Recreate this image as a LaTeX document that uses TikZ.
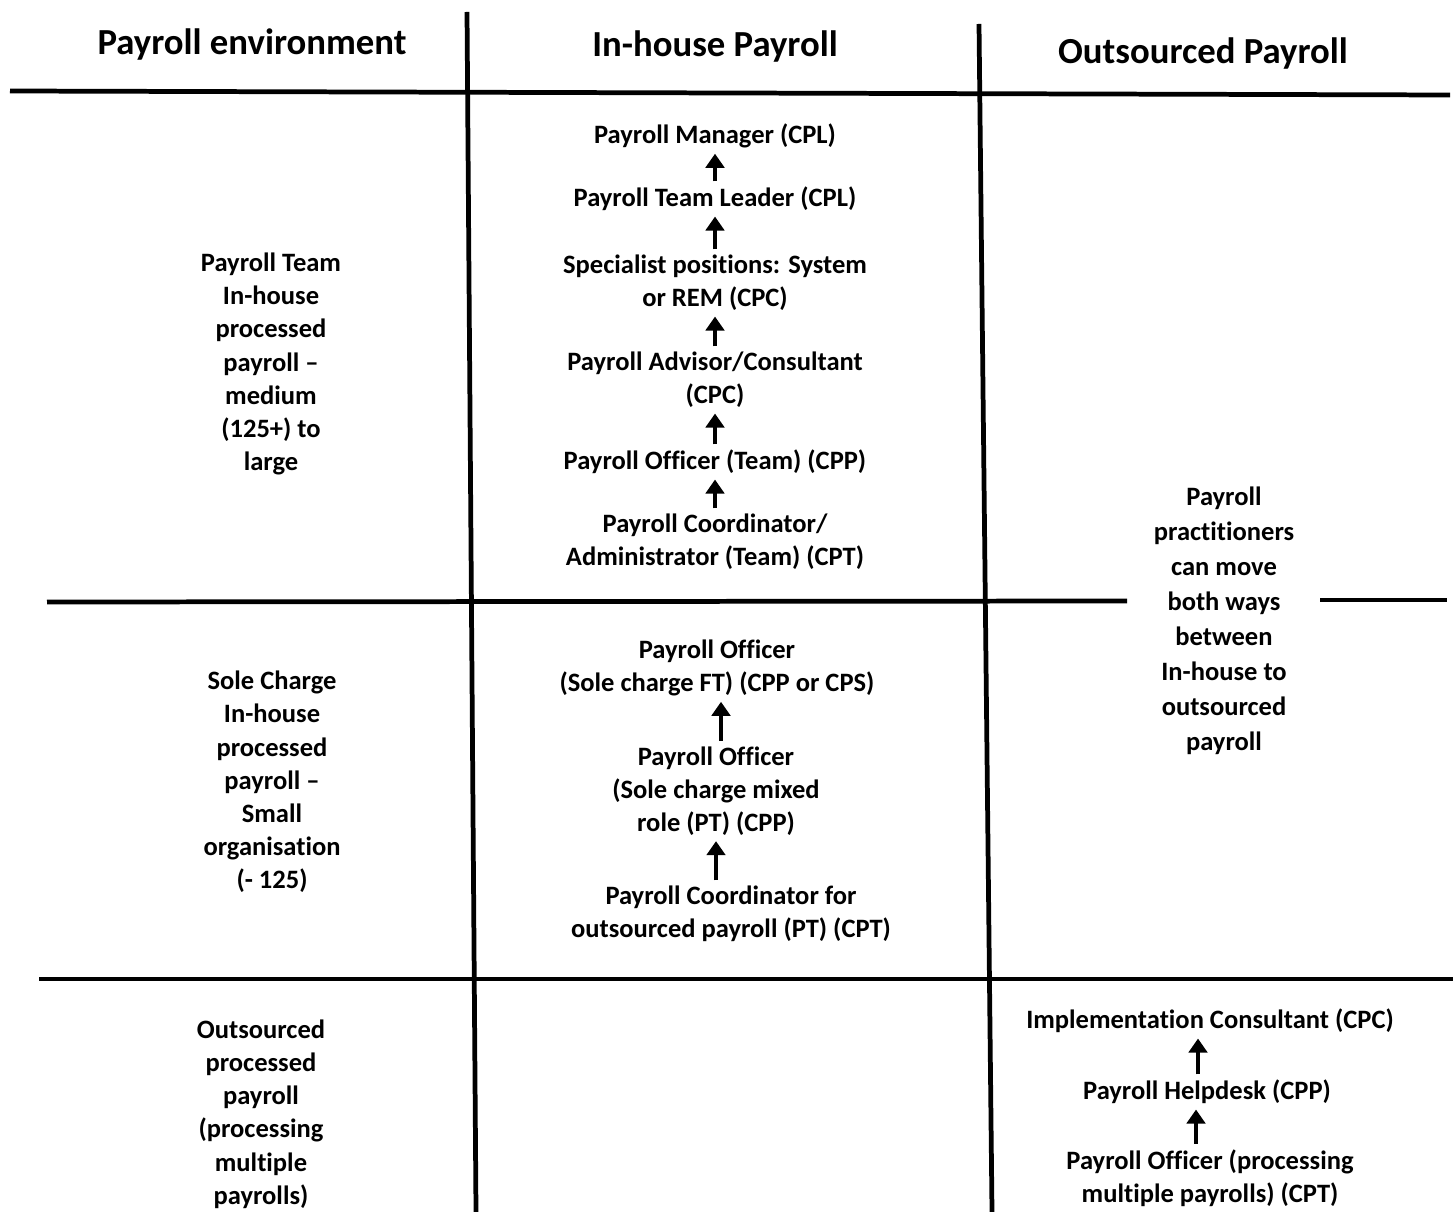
\documentclass[tikz,border=0pt]{standalone}
\usepackage{fontspec}
\setmainfont{Carlito}[Ligatures={TeX,NoCommon}]
\usetikzlibrary{arrows.meta}
\begin{document}
\begin{tikzpicture}[x=0.02cm,y=-0.02cm,
  rule/.style={line width=2.7pt},
  head/.style={font=\bfseries\fontsize{20.9}{25}\selectfont, inner sep=0pt},
  txt/.style={font=\bfseries\fontsize{15.1}{18.9}\selectfont, align=center, inner sep=2pt},
  txtw/.style={font=\bfseries\fontsize{15.1}{19.9}\selectfont, align=center, inner sep=2pt},
  uparrow/.style={line width=2.6pt, -{Triangle[width=10.5pt,length=8pt]}, shorten <=1pt, shorten >=1pt}]
\useasboundingbox (0,0) rectangle (1456,1212);
% grid lines
\draw[rule] (467,12) -- (476,1212);
\draw[rule] (979,24) -- (992,1212);
\draw[rule] (10,91) -- (1450,95);
\draw[rule] (47,602) -- (1127,601);
\draw[rule] (1320,600) -- (1447,600);
\draw[rule] (39,979) -- (1453,979);
% headers
\node[head] (h1) at (252,45) {Payroll environment};
\node[head] (h2) at (715,47) {In-house Payroll};
\node[head] (h3) at (1203,54) {Outsourced Payroll};
% left column
\node[txt] (l1) at (271,364) {Payroll Team\\In-house\\processed\\payroll –\\medium\\(125+) to\\large};
\node[txt] (l2) at (272,782) {Sole Charge\\In-house\\processed\\payroll –\\Small\\organisation\\(- 125)};
\node[txt] (l3) at (261,1114) {Outsourced\\processed\\payroll\\(processing\\multiple\\payrolls)};
% middle column, team
\node[txt] (m1) at (715,136) {Payroll Manager (CPL)};
\node[txt] (m2) at (715,199) {Payroll Team Leader (CPL)};
\node[txt] (m3) at (715,283) {Specialist positions: System\\or REM (CPC)};
\node[txt] (m4) at (715,380) {Payroll Advisor/Consultant\\(CPC)};
\node[txt] (m5) at (715,462) {Payroll Officer (Team) (CPP)};
\node[txt] (m6) at (715,542) {Payroll Coordinator/\\Administrator (Team) (CPT)};
\draw[uparrow] (m2) -- (m1);
\draw[uparrow] (m3) -- (m2);
\draw[uparrow] (m4) -- (m3);
\draw[uparrow] (m5) -- (m4);
\draw[uparrow] (m6) -- (m5);
% middle column, sole charge
\node[txt] (s1) at (717,668) {Payroll Officer\\(Sole charge FT) (CPP or CPS)};
\node[txt] (s2) at (716,791) {Payroll Officer\\(Sole charge mixed\\role (PT) (CPP)};
\node[txt] (s3) at (731,914) {Payroll Coordinator for\\outsourced payroll (PT) (CPT)};
\draw[uparrow] (s2.north -| 721,0) -- (s1.south -| 721,0);
\draw[uparrow] (s3.north -| 716,0) -- (s2.south -| 716,0);
% right column
\node[txtw] (r0) at (1224,621) {Payroll\\practitioners\\can move\\both ways\\between\\In-house to\\outsourced\\payroll};
\node[txt] (o1) at (1210,1021) {Implementation Consultant (CPC)};
\node[txt] (o2) at (1207,1092) {Payroll Helpdesk (CPP)};
\node[txt] (o3) at (1210,1178) {Payroll Officer (processing\\multiple payrolls) (CPT)};
\draw[uparrow] (o2.north -| 1198,0) -- (o1.south -| 1198,0);
\draw[uparrow] (o3.north -| 1196,0) -- (o2.south -| 1196,0);
\end{tikzpicture}
\end{document}
